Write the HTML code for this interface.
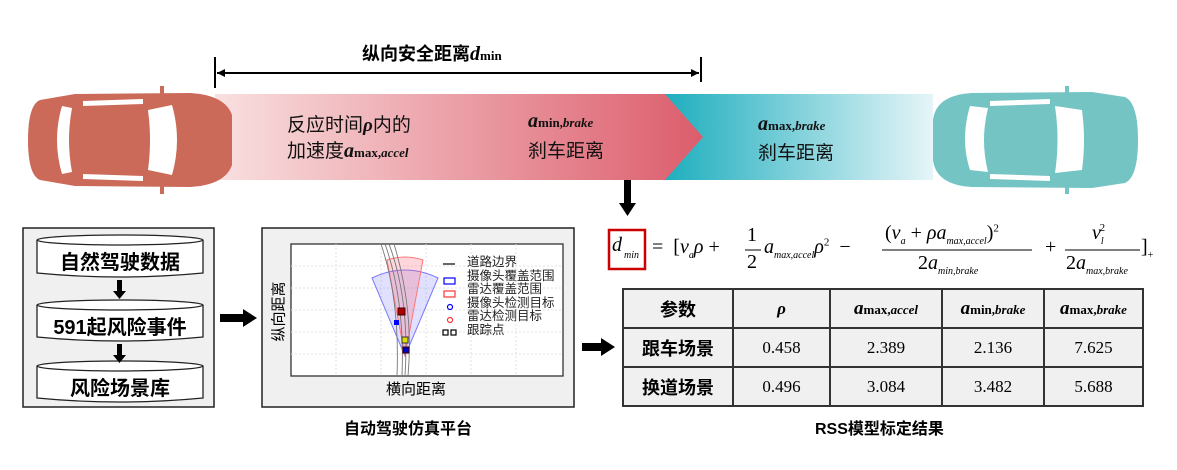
<!DOCTYPE html>
<html><head><meta charset="utf-8"><style>
*{margin:0;padding:0}
body{width:1177px;height:470px;background:#fff;position:relative;overflow:hidden;font-family:"Liberation Sans","Noto Sans CJK SC",sans-serif}
.a{position:absolute}
.t{font-family:"Liberation Serif","Noto Sans CJK SC",serif;font-size:19px;color:#111;white-space:nowrap}
.cyl{position:absolute;left:37px;width:166px;font-weight:bold;font-size:20px;text-align:center}
table{border-collapse:collapse;position:absolute;left:622px;top:288px;width:522px;background:#f0f0f0}
td{border:2px solid #333;height:37px;text-align:center;font-family:"Liberation Serif",serif;font-size:17px}
td.h{font-family:"Liberation Sans","Noto Sans CJK SC",sans-serif;font-weight:bold;font-size:18px}
.m{font-family:"Liberation Serif",serif;font-style:italic;font-weight:bold}
.f{font-family:"Liberation Serif",serif;font-size:20px;position:absolute;white-space:nowrap}
.f i sub,.f sub{font-size:10px}
</style></head><body>

<svg class="a" style="left:0;top:0" width="1177" height="470">
<defs>
<linearGradient id="r" x1="0" x2="1"><stop offset="0" stop-color="#f9e0e0"/><stop offset="1" stop-color="#dc5d6c"/></linearGradient>
<linearGradient id="g" x1="0" x2="1"><stop offset="0" stop-color="#1eaebe"/><stop offset="1" stop-color="#e6f5f8"/></linearGradient>
</defs>
<rect x="665" y="94" width="268" height="86" fill="url(#g)"/>
<polygon points="215,94 665,94 703,137 665,180 215,180" fill="url(#r)"/>
<line x1="215" y1="57" x2="215" y2="88" stroke="#000" stroke-width="2"/>
<line x1="701" y1="57" x2="701" y2="82" stroke="#000" stroke-width="2"/>
<line x1="217" y1="73" x2="699" y2="73" stroke="#000" stroke-width="2"/>
<path d="M217,73 l8,-4 v8z M699,73 l-8,-4 v8z" fill="#000"/>
<g fill="#cc6a5a">
<path d="M40,100 Q28,105 28,140 Q28,175 40,180 L75,186 L190,187 Q225,185 232,165 L232,115 Q225,95 190,93 L75,94 Z"/>
<rect x="160" y="86" width="4" height="10"/><rect x="160" y="184" width="4" height="10"/>
</g>
<g fill="#fff">
<path d="M62,106 Q52,140 62,174 L72,172 Q66,140 72,108Z"/>
<path d="M148,110 L172,105 Q182,140 172,175 L148,170 Q152,140 148,110Z"/>
<path d="M83,101 L143,99 L143,104 L83,106Z"/><path d="M83,174 L143,176 L143,181 L83,179Z"/>
</g>
<g fill="#74c4c4">
<path d="M1125,97 Q1138,103 1138,140 Q1138,177 1125,183 L1092,188 L972,187 Q936,185 933,160 L933,120 Q936,95 972,93 L1092,92Z"/>
<rect x="1065" y="86" width="4" height="10"/><rect x="1065" y="184" width="4" height="10"/>
</g>
<g fill="#fff">
<path d="M970,106 Q960,140 970,170 L988,172 Q980,140 988,108Z"/>
<path d="M1055,106 L1082,110 Q1086,140 1082,170 L1055,173 Q1060,140 1055,106Z"/>
<path d="M990,101 L1050,99 L1050,104 L990,106Z"/><path d="M990,174 L1050,176 L1050,181 L990,179Z"/>
</g>
<rect x="624" y="180" width="7" height="24" fill="#000"/><path d="M619,203 h17 l-8.5,13z" fill="#000"/>
<rect x="23" y="228" width="191" height="179" fill="#f0f0f0" stroke="#222" stroke-width="1.5"/>
<g fill="#fff" stroke="#222" stroke-width="1.3">
<path d="M37,240 v33 q83,8 166,0 v-33"/><ellipse cx="120" cy="240" rx="83" ry="5"/>
<path d="M37,305 v32 q83,8 166,0 v-32"/><ellipse cx="120" cy="305" rx="83" ry="5"/>
<path d="M37,366 v32 q83,8 166,0 v-32"/><ellipse cx="120" cy="366" rx="83" ry="5"/>
</g>
<rect x="117" y="280" width="5" height="12" fill="#000"/><path d="M113,291 h13 l-6.5,8z" fill="#000"/>
<rect x="117" y="344" width="5" height="12" fill="#000"/><path d="M113,355 h13 l-6.5,8z" fill="#000"/>
<rect x="220" y="314" width="24" height="8" fill="#000"/><path d="M243,309 v18 l14,-9z" fill="#000"/>
<rect x="582" y="343" width="20" height="8" fill="#000"/><path d="M601,338 v18 l14,-9z" fill="#000"/>
<rect x="262" y="228" width="312" height="179" fill="#f0f0f0" stroke="#222" stroke-width="1.5"/>
<rect x="291" y="244" width="272" height="132" fill="#fff" stroke="#333" stroke-width="1.3"/>
<g stroke="#e2e2e2" stroke-dasharray="2,2">
<line x1="291" y1="266" x2="563" y2="266"/><line x1="291" y1="288" x2="563" y2="288"/><line x1="291" y1="310" x2="563" y2="310"/><line x1="291" y1="332" x2="563" y2="332"/><line x1="291" y1="354" x2="563" y2="354"/>
<line x1="336" y1="244" x2="336" y2="376"/><line x1="381" y1="244" x2="381" y2="376"/><line x1="426" y1="244" x2="426" y2="376"/><line x1="471" y1="244" x2="471" y2="376"/><line x1="516" y1="244" x2="516" y2="376"/>
</g>
<path d="M405,356 L372,278 Q405,262 438,278Z" fill="rgba(90,90,255,0.18)" stroke="#77f" stroke-width="1"/>
<path d="M405,356 L387,260 Q405,254 423,260Z" fill="rgba(255,90,110,0.25)" stroke="#f77" stroke-width="1"/>
<g fill="none" stroke="#777" stroke-width="0.9">
<path d="M381,244 Q400,300 397,376"/><path d="M385,244 Q405,300 402,376"/><path d="M389,244 Q410,300 405,376"/><path d="M394,244 Q414,310 408,376"/>
</g>
<rect x="398" y="308" width="7" height="7" fill="#a00" stroke="#400"/>
<rect x="394" y="320" width="5" height="5" fill="#00f"/>
<rect x="402" y="337" width="6" height="6" fill="#dd0" stroke="#333"/>
<rect x="403" y="347" width="6" height="6" fill="#00c" stroke="#300"/>
<g stroke-width="1.2" fill="none">
<line x1="443" y1="264" x2="455" y2="264" stroke="#000"/>
<rect x="444" y="278" width="11" height="6" stroke="#00f"/>
<rect x="444" y="291" width="11" height="6" stroke="#f33"/>
<circle cx="450" cy="307" r="2.5" stroke="#00f"/>
<circle cx="450" cy="320" r="2.5" stroke="#f33"/>
<rect x="443" y="330" width="5" height="5" stroke="#000"/><rect x="451" y="330" width="5" height="5" stroke="#000"/>
</g>
<rect x="609" y="230" width="36" height="39" fill="none" stroke="#c00" stroke-width="2.5"/>
<line x1="882" y1="250" x2="1032" y2="250" stroke="#000" stroke-width="1"/>
<line x1="1065" y1="250" x2="1140" y2="250" stroke="#000" stroke-width="1"/>
<line x1="745" y1="250" x2="761" y2="250" stroke="#000"/>
</svg>

<div class="a" style="left:362px;top:40px;font-weight:bold;font-size:18px">纵向安全距离<span class="m" style="font-size:20px">d</span><span style="font-family:'Liberation Serif',serif;font-size:13px">min</span></div>

<div class="a t" style="left:287px;top:110px">反应时间<span class="m">ρ</span>内的</div>
<div class="a t" style="left:287px;top:136px">加速度<span class="m" style="font-size:20px">a</span><span style="font-size:13px;font-weight:bold">max,</span><span class="m" style="font-size:13px">accel</span></div>
<div class="a t" style="left:528px;top:110px"><span class="m" style="font-size:20px">a</span><span style="font-size:13px;font-weight:bold">min,</span><span class="m" style="font-size:13px">brake</span></div>
<div class="a t" style="left:528px;top:136px">刹车距离</div>
<div class="a t" style="left:758px;top:113px"><span class="m" style="font-size:20px">a</span><span style="font-size:13px;font-weight:bold">max,</span><span class="m" style="font-size:13px">brake</span></div>
<div class="a t" style="left:758px;top:138px">刹车距离</div>

<div class="cyl" style="top:246px">自然驾驶数据</div>
<div class="cyl" style="top:311px">591起风险事件</div>
<div class="cyl" style="top:372px">风险场景库</div>

<div class="a" style="left:467px;top:256px;font-size:12.5px;line-height:13.5px;color:#222">道路边界<br>摄像头覆盖范围<br>雷达覆盖范围<br>摄像头检测目标<br>雷达检测目标<br>跟踪点</div>
<div class="a" style="left:248px;top:301px;width:60px;text-align:center;font-size:15px;transform:rotate(-90deg);transform-origin:center">纵向距离</div>
<div class="a" style="left:386px;top:378px;font-size:15px">横向距离</div>
<div class="a" style="left:344px;top:415px;font-size:16px;font-weight:bold">自动驾驶仿真平台</div>
<div class="a" style="left:815px;top:415px;font-size:16px;font-weight:bold">RSS模型标定结果</div>

<div class="f" style="left:612px;top:234px"><i>d</i></div>
<div class="f" style="left:624px;top:250px;font-size:10px"><i>min</i></div>
<div class="f" style="left:652px;top:236px">= &nbsp;[<i>v</i><sub><i>a</i></sub><i>ρ</i> + </div>
<div class="f" style="left:747px;top:224px">1</div>
<div class="f" style="left:747px;top:251px">2</div>
<div class="f" style="left:764px;top:236px"><i>a</i><sub><i>max,accel</i></sub><i>ρ</i><sup style="font-size:11px">2</sup> &nbsp;−</div>
<div class="f" style="left:885px;top:222px">(<i>v</i><sub><i>a</i></sub> + <i>ρa</i><sub><i>max,accel</i></sub>)<sup style="font-size:11px">2</sup></div>
<div class="f" style="left:918px;top:252px">2<i>a</i><sub><i>min,brake</i></sub></div>
<div class="f" style="left:1045px;top:236px">+</div>
<div class="f" style="left:1092px;top:222px"><i>v</i><sub><i>l</i></sub><sup style="font-size:11px;margin-left:-4px">2</sup></div>
<div class="f" style="left:1066px;top:252px">2<i>a</i><sub><i>max,brake</i></sub></div>
<div class="f" style="left:1141px;top:236px">]<sub>+</sub></div>

<table>
<tr><td class="h" style="width:108px">参数</td><td style="width:95px" class="m">ρ</td><td style="width:110px"><span class="m" style="font-size:19px">a</span><b style="font-size:13px">max,</b><span class="m" style="font-size:13px">accel</span></td><td style="width:100px"><span class="m" style="font-size:19px">a</span><b style="font-size:13px">min,</b><span class="m" style="font-size:13px">brake</span></td><td><span class="m" style="font-size:19px">a</span><b style="font-size:13px">max,</b><span class="m" style="font-size:13px">brake</span></td></tr>
<tr><td class="h">跟车场景</td><td>0.458</td><td>2.389</td><td>2.136</td><td>7.625</td></tr>
<tr><td class="h">换道场景</td><td>0.496</td><td>3.084</td><td>3.482</td><td>5.688</td></tr>
</table>
</body></html>
